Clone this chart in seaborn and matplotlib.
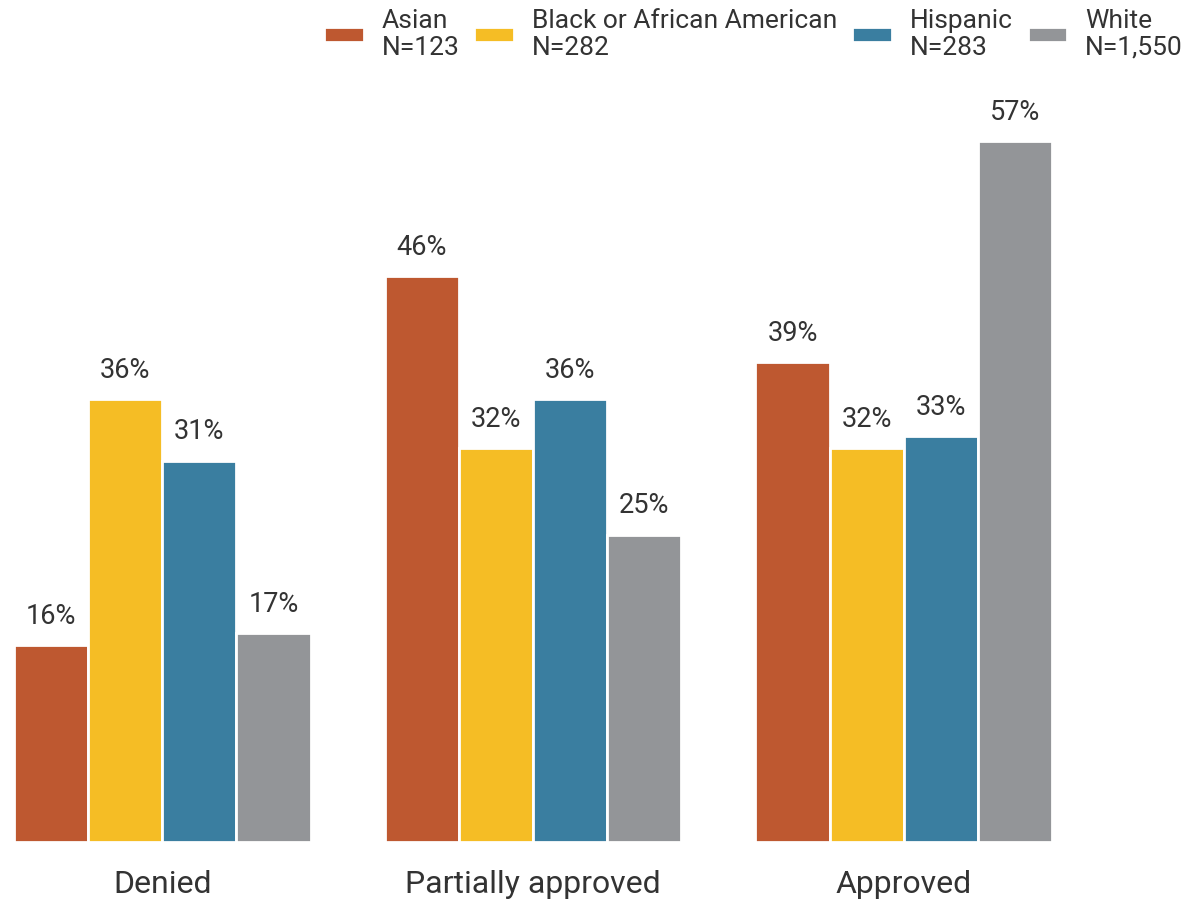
import matplotlib
matplotlib.use("Agg")
import matplotlib.pyplot as plt
import seaborn as sns
import pandas as pd

categories = ["Denied", "Partially approved", "Approved"]
groups = ["Asian\nN=123", "Black or African American\nN=282", "Hispanic\nN=283", "White\nN=1,550"]
asian = [16, 46, 39]
black = [36, 32, 32]
hispanic = [31, 36, 33]
white = [17, 25, 57]
colors = ["#BE5830", "#F5BD25", "#3A7EA0", "#939598"]

rows = []
for g, vals in zip(groups, [asian, black, hispanic, white]):
    for c, v in zip(categories, vals):
        rows.append({"category": c, "group": g, "value": v})
df = pd.DataFrame(rows)

sns.set_theme(style="white")
plt.rcParams["font.family"] = ["Roboto", "DejaVu Sans"]
text_color = "#333333"

fig = plt.figure(figsize=(11.89, 8.99), dpi=100)
W, H = 1189, 899
ax = fig.add_axes([14 / W, (H - 842) / H, (1052 - 14) / W, 60 * 12.3 / H])

sns.barplot(data=df, x="category", y="value", hue="group", order=categories,
            hue_order=groups, palette=colors, width=0.8, ax=ax,
            edgecolor="white", linewidth=2, saturation=1)

ax.set_xlim(-0.4, 2.4)
ax.set_ylim(0, 60)
for cont in ax.containers:
    ax.bar_label(cont, fmt="%d%%", padding=11, fontsize=19.5, color=text_color)

ax.set_xlabel("")
ax.set_ylabel("")
ax.set_yticks([])
ax.tick_params(axis="x", length=0, labelsize=23, colors=text_color, pad=20)
for s in ax.spines.values():
    s.set_visible(False)

handles, labels = ax.get_legend_handles_labels()
leg = ax.legend(handles, labels, ncol=4, frameon=False, loc="upper right",
                bbox_to_anchor=(1187 / W, 1.0 - 5 / H), bbox_transform=fig.transFigure,
                fontsize=19, labelcolor=text_color, handlelength=1.5, handleheight=0.45,
                handletextpad=0.68, columnspacing=0.57, borderaxespad=0.0, borderpad=0.15,
                labelspacing=0.2)
for t in leg.get_texts():
    t.set_multialignment("left")
    t.set_linespacing(1.15)

fig.savefig("out.png", dpi=100)
